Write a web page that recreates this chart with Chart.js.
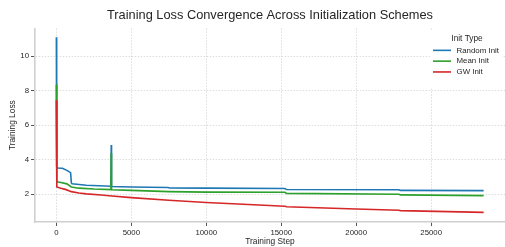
<!DOCTYPE html>
<html>
<head>
<meta charset="utf-8">
<script src="https://cdn.jsdelivr.net/npm/chart.js@4/dist/chart.umd.min.js"></script>
<style>
  html, body { margin: 0; padding: 0; background: #fff; }
  #wrap { width: 505px; height: 247px; }
</style>
</head>
<body>
<div id="wrap"><canvas id="lossChart" width="505" height="247"></canvas></div>
<script>
// values
const seriesNames = ["Random Init", "Mean Init", "GW Init"];

const randomSteps = [0, 20, 100, 400, 700, 950, 1000, 1050, 2000, 3640, 3660, 3680, 5000, 7450, 7550, 10000, 15250, 15350, 22850, 22950, 28500];
const randomLoss = [11.1, 3.6, 3.52, 3.5, 3.38, 3.25, 2.65, 2.6, 2.52, 2.46, 4.85, 2.45, 2.42, 2.39, 2.36, 2.35, 2.33, 2.27, 2.26, 2.22, 2.21];

const meanSteps = [0, 30, 300, 700, 1000, 1500, 2500, 3640, 3660, 3680, 5000, 7500, 10000, 15250, 15350, 22850, 22950, 28500];
const meanLoss = [8.35, 2.72, 2.68, 2.6, 2.42, 2.35, 2.3, 2.27, 4.37, 2.26, 2.22, 2.15, 2.12, 2.11, 2.05, 2.0, 1.96, 1.92];

const gwSteps = [0, 30, 300, 600, 1000, 1500, 2000, 3000, 3700, 5000, 7500, 10000, 15250, 15350, 20000, 22850, 22950, 28500];
const gwLoss = [7.44, 2.42, 2.35, 2.28, 2.15, 2.07, 2.02, 1.95, 1.9, 1.8, 1.65, 1.52, 1.3, 1.27, 1.14, 1.07, 1.05, 0.95];

const xTicks = [0, 5000, 10000, 15000, 20000, 25000];
const yTicks = [2, 4, 6, 8, 10];

const font = "'Liberation Sans', Arial, sans-serif";
const textColor = "#262626";

const toPoints = (steps, loss) => steps.map((s, i) => ({ x: s, y: loss[i] }));

// legend drawn over the top right corner of the plot
const legendPlugin = {
  id: "cornerLegend",
  afterDraw(chart) {
    const ctx = chart.ctx;
    const area = chart.chartArea;
    ctx.save();
    ctx.fillStyle = "#fff";
    ctx.fillRect(area.right - 74, area.top + 2, 72, 58);
    ctx.fillStyle = textColor;
    ctx.textBaseline = "middle";
    ctx.textAlign = "center";
    ctx.font = "8.3px " + font;
    ctx.fillText("Init Type", area.right - 38, area.top + 10.5);
    ctx.textAlign = "left";
    ctx.font = "7.9px " + font;
    chart.data.datasets.forEach((ds, i) => {
      const y = area.top + 22 + i * 10.8;
      ctx.strokeStyle = ds.borderColor;
      ctx.lineWidth = 1.6;
      ctx.beginPath();
      ctx.moveTo(area.right - 72, y);
      ctx.lineTo(area.right - 54, y);
      ctx.stroke();
      ctx.fillText(ds.label, area.right - 48.5, y);
    });
    ctx.restore();
  },
};

const ctx = document.getElementById("lossChart").getContext("2d");

const gridOpts = { color: "rgba(0,0,0,0.17)", lineWidth: 0.8, tickLength: 4, tickColor: "#555", tickWidth: 1 };
const borderOpts = { color: "#d0d0d0", width: 1.6, dash: [1.5, 1.5] };
const tickFont = { family: font, size: 7.8 };

const lossChart = new Chart(ctx, {
  type: "line",
  data: {
    datasets: [
      { label: seriesNames[0], data: toPoints(randomSteps, randomLoss), borderColor: "#1f77b4", order: 2 },
      { label: seriesNames[1], data: toPoints(meanSteps, meanLoss), borderColor: "#2ca02c", order: 1 },
      { label: seriesNames[2], data: toPoints(gwSteps, gwLoss), borderColor: "#d62728", order: 0 },
    ],
  },
  options: {
    responsive: false,
    animation: false,
    devicePixelRatio: 1,
    layout: { padding: 0 },
    elements: {
      point: { radius: 0 },
      line: { borderWidth: 1.6, tension: 0, fill: false },
    },
    plugins: {
      legend: { display: false },
      tooltip: { enabled: false },
      title: {
        display: true,
        text: "Training Loss Convergence Across Initialization Schemes",
        fullSize: false,
        color: textColor,
        font: { family: font, size: 12.8, weight: "normal" },
        padding: { top: 8, bottom: 5 },
      },
    },
    scales: {
      x: {
        type: "linear",
        min: -1425,
        max: 29925,
        afterFit: (s) => { s.height = 25; },
        afterBuildTicks: (s) => { s.ticks = xTicks.map((v) => ({ value: v })); },
        ticks: {
          maxRotation: 0,
          autoSkip: false,
          padding: 2,
          color: textColor,
          font: tickFont,
          callback: (v) => String(v),
        },
        grid: gridOpts,
        border: borderOpts,
        title: {
          display: true,
          text: "Training Step",
          color: textColor,
          font: { family: font, size: 8.4 },
          padding: { top: 0, bottom: 0 },
        },
      },
      y: {
        type: "linear",
        min: 0.39,
        max: 11.61,
        afterFit: (s) => { s.width = 35; },
        afterBuildTicks: (s) => { s.ticks = yTicks.map((v) => ({ value: v })); },
        ticks: {
          autoSkip: false,
          padding: 2,
          color: textColor,
          font: tickFont,
          callback: (v) => String(v),
        },
        grid: gridOpts,
        border: borderOpts,
        title: {
          display: true,
          text: "Training Loss",
          color: textColor,
          font: { family: font, size: 8.4 },
          padding: { top: 7.5, bottom: 0 },
        },
      },
    },
  },
  plugins: [legendPlugin],
});
</script>
</body>
</html>
